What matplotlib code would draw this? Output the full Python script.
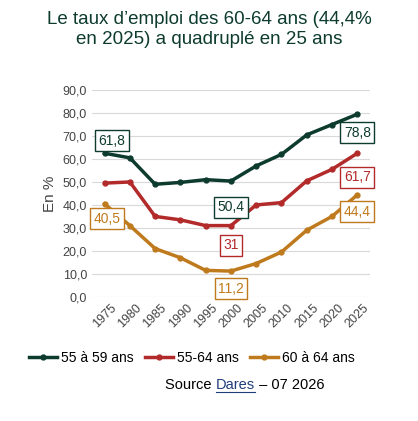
import matplotlib
matplotlib.use("Agg")
import matplotlib.pyplot as plt
plt.rcParams['font.family'] = ['Liberation Sans', 'DejaVu Sans']

years = ["1975","1980","1985","1990","1995","2000","2005","2010","2015","2020","2025"]
s5559 = [62.5, 60.5, 49.0, 49.8, 51.0, 50.4, 57.0, 62.0, 70.5, 75.0, 79.5]
s5564 = [49.5, 50.0, 35.0, 33.5, 31.0, 31.0, 40.0, 41.0, 50.5, 55.5, 62.5]
s6064 = [40.5, 31.0, 21.0, 17.0, 11.5, 11.2, 14.5, 19.5, 29.0, 35.0, 44.4]
c1, c2, c3 = "#0d3b2e", "#b22a2a", "#c07a1e"

fig = plt.figure(figsize=(4.18, 4.21), dpi=100)
ax = fig.add_axes([0.22, 0.295, 0.665, 0.491])
x = list(range(len(years)))
for ys, c, lab in [(s5559, c1, "55 à 59 ans"), (s5564, c2, "55-64 ans"), (s6064, c3, "60 à 64 ans")]:
    ax.plot(x, ys, color=c, lw=2.5, marker="o", ms=3.5, label=lab)
ax.set_ylim(0, 90)
ax.set_yticks(range(0, 91, 10))
ax.set_yticklabels([f"{v},0" for v in range(0, 91, 10)], fontsize=9, color="#444")
ax.set_xticks(x)
ax.set_xticklabels(years, rotation=45, fontsize=9, color="#444")
ax.set_xlim(-0.5, 10.5)
ax.grid(axis="y", color="#d9d9d9", lw=0.8)
ax.set_axisbelow(True)
for s in ax.spines.values():
    s.set_visible(False)
ax.tick_params(length=0)
ax.set_ylabel("En %", fontsize=11, color="#444")

def box(xp, yp, t, c):
    ax.text(xp, yp, t, color=c, fontsize=10, ha="center", va="center",
            bbox=dict(boxstyle="square,pad=0.25", fc="white", ec=c, lw=1))
box(0.3, 68, "61,8", c1)
box(10, 71.5, "78,8", c1)
box(5, 39, "50,4", c1)
box(10, 52, "61,7", c2)
box(5, 22.5, "31", c2)
box(0.1, 34, "40,5", c3)
box(10, 37, "44,4", c3)
box(5, 3.5, "11,2", c3)

fig.text(0.5, 0.93, "Le taux d’emploi des 60-64 ans (44,4%\nen 2025) a quadruplé en 25 ans",
         ha="center", va="center", fontsize=13.5, color="#0d3b2e", linespacing=1.2)
ax.legend(loc="upper center", bbox_to_anchor=(0.36, -0.2), ncol=3, frameon=False,
          fontsize=10, handlelength=2, columnspacing=0.8, handletextpad=0.3)
fig.canvas.draw()
r = fig.canvas.get_renderer()
t1 = fig.text(0.395, 0.075, "Source ", fontsize=10.5, ha="left")
e = t1.get_window_extent(r)
x2 = e.x1 / fig.bbox.width
t2 = fig.text(x2, 0.075, "Dares", fontsize=10.5, ha="left", color="#1f3d7a")
e2 = t2.get_window_extent(r)
x3 = e2.x1 / fig.bbox.width
fig.add_artist(plt.Line2D([x2, x3], [0.07, 0.07], color="#1f3d7a", lw=0.8, transform=fig.transFigure))
fig.text(x3, 0.075, " – 07 2026", fontsize=10.5, ha="left")
fig.savefig("out.png", dpi=100)
